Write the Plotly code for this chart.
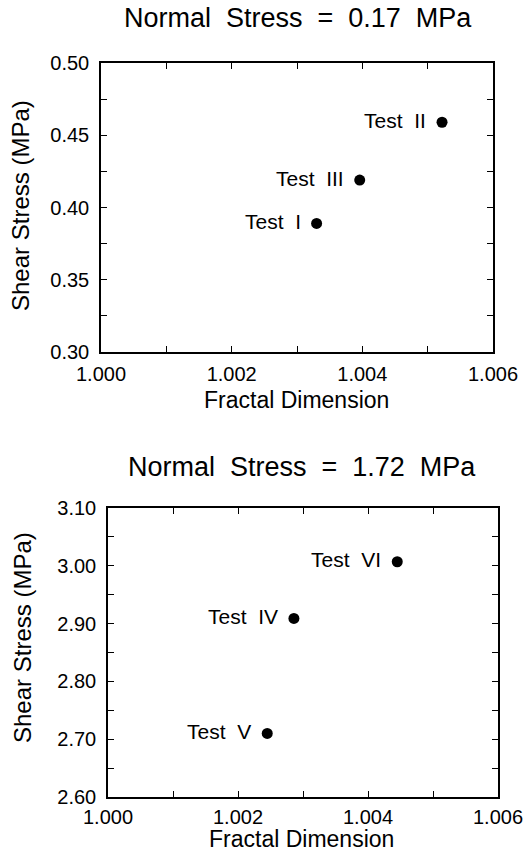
import plotly.graph_objects as go

# ---- data ----
top_tests = ["Test\u00a0\u00a0II", "Test\u00a0\u00a0III", "Test\u00a0\u00a0I"]
top_fd = [1.00522, 1.00396, 1.00330]
top_shear = [0.459, 0.419, 0.389]

bot_tests = ["Test\u00a0\u00a0VI", "Test\u00a0\u00a0IV", "Test\u00a0\u00a0V"]
bot_fd = [1.00445, 1.00286, 1.00245]
bot_shear = [3.007, 2.909, 2.710]

x_tickvals = [1.000, 1.001, 1.002, 1.003, 1.004, 1.005, 1.006]
x_ticktext = ["1.000", "", "1.002", "", "1.004", "", "1.006"]
top_y_tickvals = [0.300, 0.325, 0.350, 0.375, 0.400, 0.425, 0.450, 0.475, 0.500]
top_y_ticktext = ["0.30", "", "0.35", "", "0.40", "", "0.45", "", "0.50"]
bot_y_tickvals = [2.60, 2.65, 2.70, 2.75, 2.80, 2.85, 2.90, 2.95, 3.00, 3.05, 3.10]
bot_y_ticktext = ["2.60", "", "2.70", "", "2.80", "", "2.90", "", "3.00", "", "3.10"]

titles = ["Normal\u00a0\u00a0Stress\u00a0\u00a0=\u00a0\u00a00.17\u00a0\u00a0MPa",
          "Normal\u00a0\u00a0Stress\u00a0\u00a0=\u00a0\u00a01.72\u00a0\u00a0MPa"]
x_title = "Fractal\u00a0Dimension"
y_title = "Shear\u00a0Stress\u00a0(MPa)"

FONT = "Liberation Sans, Arial, sans-serif"
W, H = 523, 854

fig = go.Figure()
fig.add_trace(go.Scatter(x=top_fd, y=top_shear, mode="markers",
                         marker=dict(color="black", size=11), xaxis="x", yaxis="y",
                         showlegend=False))
fig.add_trace(go.Scatter(x=bot_fd, y=bot_shear, mode="markers",
                         marker=dict(color="black", size=11), xaxis="x2", yaxis="y2",
                         showlegend=False))

annotations = []
for t, xv, yv in zip(top_tests, top_fd, top_shear):
    annotations.append(dict(x=xv, y=yv, xref="x", yref="y", text=t, showarrow=False,
                            xanchor="right", yanchor="middle", xshift=-14, yshift=2,
                            font=dict(size=21, color="black", family=FONT)))
for t, xv, yv in zip(bot_tests, bot_fd, bot_shear):
    annotations.append(dict(x=xv, y=yv, xref="x2", yref="y2", text=t, showarrow=False,
                            xanchor="right", yanchor="middle", xshift=-14, yshift=2,
                            font=dict(size=21, color="black", family=FONT)))

# plot titles
annotations.append(dict(x=298 / W, y=1 - 18 / H, xref="paper", yref="paper", text=titles[0],
                        showarrow=False, xanchor="center", yanchor="middle",
                        font=dict(size=27, color="black", family=FONT)))
annotations.append(dict(x=302 / W, y=1 - 467 / H, xref="paper", yref="paper", text=titles[1],
                        showarrow=False, xanchor="center", yanchor="middle",
                        font=dict(size=27, color="black", family=FONT)))

# axis titles
annotations.append(dict(x=296 / W, y=1 - 400 / H, xref="paper", yref="paper", text=x_title,
                        showarrow=False, xanchor="center", yanchor="middle",
                        font=dict(size=23, color="black", family=FONT)))
annotations.append(dict(x=301 / W, y=0, xref="paper", yref="paper", text=x_title,
                        showarrow=False, xanchor="center", yanchor="bottom",
                        font=dict(size=23, color="black", family=FONT)))
for xc, yc in [(20, 206), (22, 638)]:
    annotations.append(dict(x=xc / W, y=1 - yc / H, xref="paper", yref="paper", text=y_title,
                            showarrow=False, xanchor="center", yanchor="middle", textangle=-90,
                            font=dict(size=24, color="black", family=FONT)))

axis_common = dict(showline=True, linecolor="black", linewidth=1.5, mirror="ticks",
                   ticks="inside", ticklen=6, tickwidth=1.3, tickcolor="black",
                   showgrid=False, zeroline=False, automargin=False,
                   ticklabeloverflow="allow",
                   tickfont=dict(size=20, color="black", family=FONT))

fig.update_layout(
    width=W, height=H,
    margin=dict(l=0, r=0, t=0, b=0),
    paper_bgcolor="white", plot_bgcolor="white",
    xaxis=dict(domain=[101 / W, 493 / W], range=[1.000, 1.006], anchor="y",
               tickmode="array", tickvals=x_tickvals, ticktext=x_ticktext,
               ticklabelstandoff=3, **axis_common),
    yaxis=dict(domain=[1 - 352 / H, 1 - 63 / H], range=[0.30, 0.50], anchor="x",
               tickmode="array", tickvals=top_y_tickvals, ticktext=top_y_ticktext,
               ticklabelstandoff=6, **axis_common),
    xaxis2=dict(domain=[108 / W, 498 / W], range=[1.000, 1.006], anchor="y2",
                tickmode="array", tickvals=x_tickvals, ticktext=x_ticktext,
                ticklabelstandoff=1, **axis_common),
    yaxis2=dict(domain=[1 - 797 / H, 1 - 508 / H], range=[2.60, 3.10], anchor="x2",
                tickmode="array", tickvals=bot_y_tickvals, ticktext=bot_y_ticktext,
                ticklabelstandoff=6, **axis_common),
    annotations=annotations,
)

fig.write_html("out.html")
